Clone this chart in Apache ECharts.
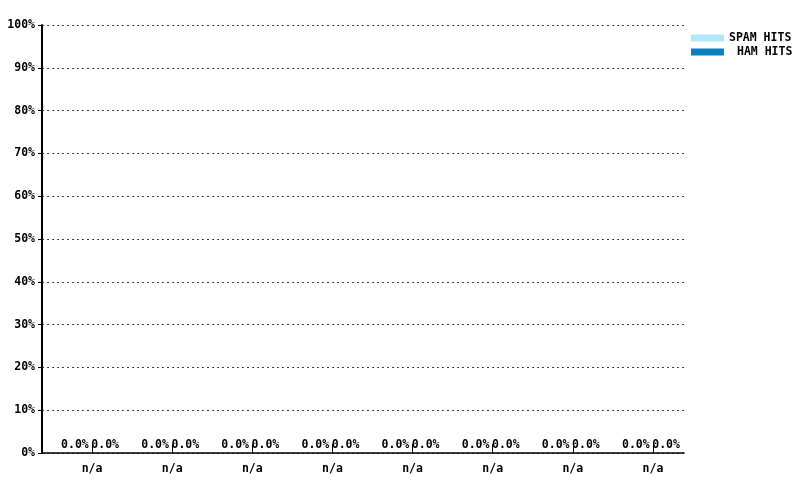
<!DOCTYPE html>
<html>
<head>
<meta charset="utf-8">
<script src="https://cdn.jsdelivr.net/npm/echarts@6/dist/echarts.min.js"></script>
<style>
  html, body { margin: 0; padding: 0; background: #fff; }
  #chart { width: 800px; height: 480px; }
</style>
</head>
<body>
<div id="chart"></div>
<script>
// 数据
var categories = ['n/a', 'n/a', 'n/a', 'n/a', 'n/a', 'n/a', 'n/a', 'n/a'];
var spamHits = [0, 0, 0, 0, 0, 0, 0, 0];
var hamHits = [0, 0, 0, 0, 0, 0, 0, 0];
var yTicks = [0, 10, 20, 30, 40, 50, 60, 70, 80, 90, 100];

var font = 'DejaVu Sans Mono';
var chart = echarts.init(document.getElementById('chart'));

function pctLabel(p) {
    return p.value.toFixed(1) + '%';
}

var option = {
    animation: false,
    backgroundColor: '#fff',
    legend: {
        orient: 'vertical',
        left: 686,
        top: 27,
        itemWidth: 33,
        itemHeight: 7,
        itemGap: 2,
        icon: 'rect',
        textStyle: { fontFamily: font, fontWeight: 'bold', fontSize: 11.5, color: '#000' },
        data: [
            { name: 'SPAM HITS' },
            { name: 'HAM HITS', textStyle: { padding: [0, 0, 0, 8] } }
        ]
    },
    grid: [
        { left: 42, right: 116, top: 25, bottom: 27 },
        { left: 52, right: 107, top: 25, bottom: 27 }
    ],
    xAxis: [
        {
            // 只画底部轴线
            type: 'value', gridIndex: 0, min: 0, max: 1,
            axisLine: { show: true, lineStyle: { color: '#000', width: 1.5 } },
            axisTick: { show: false }, axisLabel: { show: false }, splitLine: { show: false }
        },
        {
            type: 'category', gridIndex: 1, data: categories,
            axisLine: { show: false },
            axisTick: { show: true, alignWithLabel: true, inside: true, length: 9, lineStyle: { color: '#000' } },
            axisLabel: { margin: 10, fontFamily: font, fontWeight: 'bold', fontSize: 11.5, color: '#000' }
        }
    ],
    yAxis: [
        {
            type: 'value', gridIndex: 0, min: 0, max: 100, interval: 10,
            axisLine: { show: true, lineStyle: { color: '#000', width: 2 } },
            axisTick: { show: true, length: 4, lineStyle: { color: '#000' } },
            axisLabel: {
                margin: 7, fontFamily: font, fontWeight: 'bold', fontSize: 11.5, color: '#000',
                formatter: function (v) { return yTicks.indexOf(v) >= 0 ? v + '%' : ''; }
            },
            splitLine: { show: true, lineStyle: { color: '#444', type: [2, 3], width: 1 } }
        },
        { type: 'value', gridIndex: 1, min: 0, max: 100, show: false }
    ],
    series: [
        {
            name: 'SPAM HITS', type: 'bar', xAxisIndex: 1, yAxisIndex: 1,
            barWidth: 28, barGap: '8%',
            itemStyle: { color: '#b3e6f8' },
            label: {
                show: true, position: 'top', distance: 2, offset: [-2, 0],
                fontFamily: font, fontWeight: 'bold', fontSize: 11.5, color: '#000',
                formatter: pctLabel
            },
            data: spamHits
        },
        {
            name: 'HAM HITS', type: 'bar', xAxisIndex: 1, yAxisIndex: 1,
            barWidth: 28,
            itemStyle: { color: '#0a80bf' },
            label: {
                show: true, position: 'top', distance: 2, offset: [-2, 0],
                fontFamily: font, fontWeight: 'bold', fontSize: 11.5, color: '#000',
                formatter: pctLabel
            },
            data: hamHits
        }
    ]
};

chart.setOption(option);
</script>
</body>
</html>
